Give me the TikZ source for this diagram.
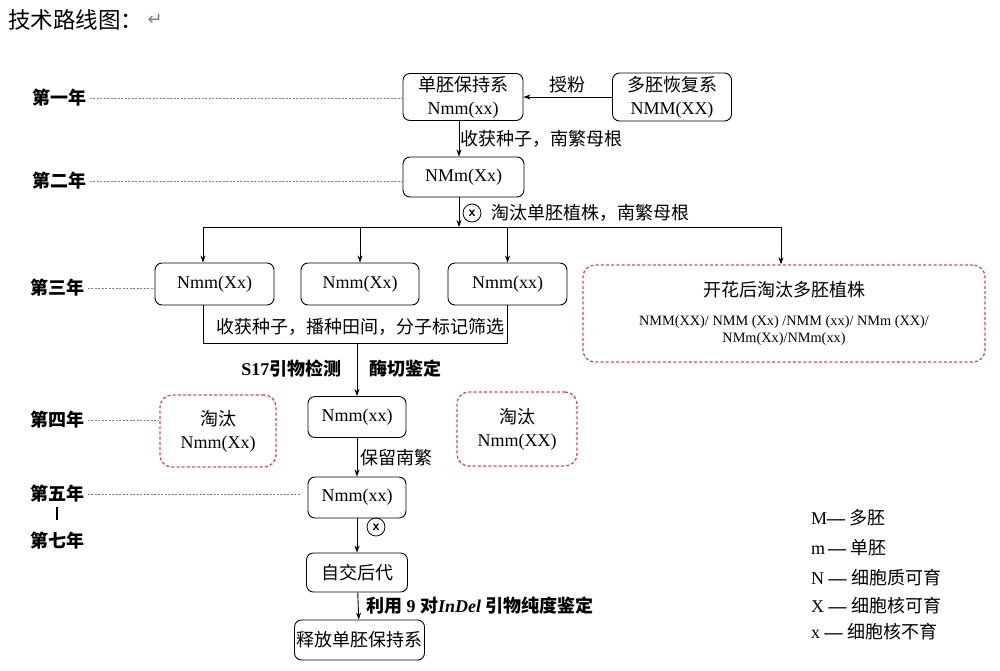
\documentclass[tikz,border=0pt]{standalone}
\usepackage{fontspec}
\setmainfont{Liberation Serif}
\newfontfamily\cjk{Noto Sans CJK SC}
\newfontfamily\symf{DejaVu Sans}
\usetikzlibrary{arrows.meta,positioning,calc}
\definecolor{cutred}{RGB}{216,72,92}
\tikzset{
  box/.style={draw,rounded corners=7pt,line width=0.9pt,align=center,inner sep=2pt},
  cutbox/.style={draw=cutred,dash pattern=on 3pt off 2.2pt,rounded corners=12pt,line width=1.3pt,align=center,inner sep=2pt},
  yr/.style={font=\fontsize{18}{21}\selectfont\cjk\bfseries},
  guide/.style={gray,dash pattern=on 2pt off 1.5pt,line width=0.6pt},
  arr/.style={-{Stealth[length=7pt,width=5pt]},line width=0.9pt},
  cross/.style={circle,draw,line width=0.8pt,inner sep=0pt,minimum size=18pt,font=\fontsize{14}{14}\selectfont\sffamily\bfseries},
  note/.style={font=\fontsize{18}{21}\selectfont\cjk}
}
\begin{document}
\begin{tikzpicture}[x=1pt,y=-1pt,font=\fontsize{18}{23}\selectfont]
  \useasboundingbox (0,0) rectangle (1000,670);
  \node[anchor=west,inner sep=0pt,font=\fontsize{22.5}{24}\selectfont\cjk] (title) at (8,20) {技术路线图：};
  \node[right=4pt of title,inner sep=0pt,gray,font=\fontsize{18}{20}\selectfont\symf] (ret) {↵};
  \node[box,minimum width=120pt,minimum height=47pt] (keep) at (463,97) {{\cjk 单胚保持系}\\Nmm(xx)};
  \node[box,minimum width=119pt,minimum height=48pt] (rest) at (672,97) {{\cjk 多胚恢复系}\\NMM(XX)};
  \node[box,minimum width=121pt,minimum height=40pt] (f1) at (463.5,177) {NMm(Xx)};
  \coordinate (split) at (459,227);
  \coordinate (barL) at (203,227);
  \coordinate (barR) at (781,227);
  \node[box,minimum width=119pt,minimum height=42pt] (s1) at (214.5,284) {Nmm(Xx)};
  \node[box,minimum width=118pt,minimum height=42pt] (s2) at (360,284) {Nmm(Xx)};
  \node[box,minimum width=119pt,minimum height=42pt] (s3) at (507.5,284) {Nmm(xx)};
  \node[cutbox,minimum width=402pt,minimum height=97pt,font=\fontsize{14.3}{17}\selectfont] (poly) at (784,313.5) {{\fontsize{18}{21}\selectfont\cjk 开花后淘汰多胚植株}\\[12pt]NMM(XX)/ NMM (Xx) /NMM (xx)/ NMm (XX)/\\NMm(Xx)/NMm(xx)};
  \coordinate (mL) at (203,343);
  \coordinate (mR) at (507.5,343);
  \coordinate (mC) at (357,343);
  \node[box,minimum width=98pt,minimum height=41pt] (pick) at (357,417) {Nmm(xx)};
  \node[cutbox,minimum width=116pt,minimum height=72pt] (dropA) at (218,431) {{\cjk 淘汰}\\Nmm(Xx)};
  \node[cutbox,minimum width=120pt,minimum height=74pt] (dropB) at (517,429) {{\cjk 淘汰}\\Nmm(XX)};
  \node[box,minimum width=98pt,minimum height=41pt] (p5) at (357,497.5) {Nmm(xx)};
  \node[box,minimum width=101pt,minimum height=39pt] (self) at (357,572.5) {\cjk 自交后代};
  \node[box,minimum width=123pt,minimum height=40pt] (release) at (359.5,640) {\cjk 释放单胚保持系};
  \draw[arr] (rest.west) -- node[above,note]{授粉} (keep.east);
  \draw[arr] (keep.south -| split) -- node[right,note,xshift=-2pt]{收获种子，南繁母根} (f1.north -| split);
  \draw[arr] (f1.south -| split) -- (split);
  \node[cross] (x1) at (472,213) {x};
  \node[note,anchor=west] (cull1) at (488,213) {淘汰单胚植株，南繁母根};
  \draw[line width=0.9pt] (barL) -- (barR);
  \draw[arr] (barL) -- (barL |- s1.north);
  \draw[arr] (s2.north |- barL) -- (s2.north);
  \draw[arr] (s3.north |- barL) -- (s3.north);
  \draw[arr] (barR) -- (barR |- poly.north);
  \draw[line width=0.9pt] (s1.south -| mL) -- (mL) -- (mR) -- (s3.south);
  \node[note] (sow) at (360,327) {收获种子，播种田间，分子标记筛选};
  \draw[arr] (mC) -- (mC |- pick.north);
  \node[note,anchor=east,font=\fontsize{18}{21}\selectfont\bfseries] (s17) at (345,369) {S17{\cjk 引物检测}};
  \node[note,anchor=west,font=\fontsize{18}{21}\selectfont\cjk\bfseries] (enz) at (366,369) {酶切鉴定};
  \draw[arr] (pick) -- node[right,note]{保留南繁} (p5);
  \draw[arr] (p5) -- (self);
  \node[cross] (x2) at (376,527) {x};
  \draw[arr] (self) -- node[right,font=\fontsize{18}{21}\selectfont\bfseries,xshift=4pt]{{\cjk 利用} 9 {\cjk 对}\textit{InDel} {\cjk 引物纯度鉴定}} (release);
  \node[yr] (y1) at (59,98) {第一年};
  \node[yr] (y2) at (59,181) {第二年};
  \node[yr] (y3) at (57,288) {第三年};
  \node[yr] (y4) at (57,420) {第四年};
  \node[yr] (y5) at (57,494) {第五年};
  \node[yr] (y7) at (57,541) {第七年};
  \draw[guide] (y1.east) -- (y1.east -| keep.west);
  \draw[guide] (y2.east) -- (y2.east -| f1.west);
  \draw[guide] (y3.east) -- (y3.east -| s1.west);
  \draw[guide] (y4.east) -- (y4.east -| dropA.west);
  \draw[guide,shorten >=7pt] (y5.east) -- (y5.east -| p5.west);
  \draw[line width=1.2pt,shorten <=1pt,shorten >=9pt] (y5.south) -- (y7.north);
  \node[anchor=west,inner sep=0pt] (lgM) at (811,518) {M\textbf{—} {\cjk 多胚}};
  \node[anchor=west,inner sep=0pt] (lgm) at (811,548) {m\,\textbf{—} {\cjk 单胚}};
  \node[anchor=west,inner sep=0pt] (lgN) at (811,578) {N \textbf{—} {\cjk 细胞质可育}};
  \node[anchor=west,inner sep=0pt] (lgX) at (811,606) {X \textbf{—} {\cjk 细胞核可育}};
  \node[anchor=west,inner sep=0pt] (lgx) at (811,632) {x \textbf{—} {\cjk 细胞核不育}};
\end{tikzpicture}
\end{document}
